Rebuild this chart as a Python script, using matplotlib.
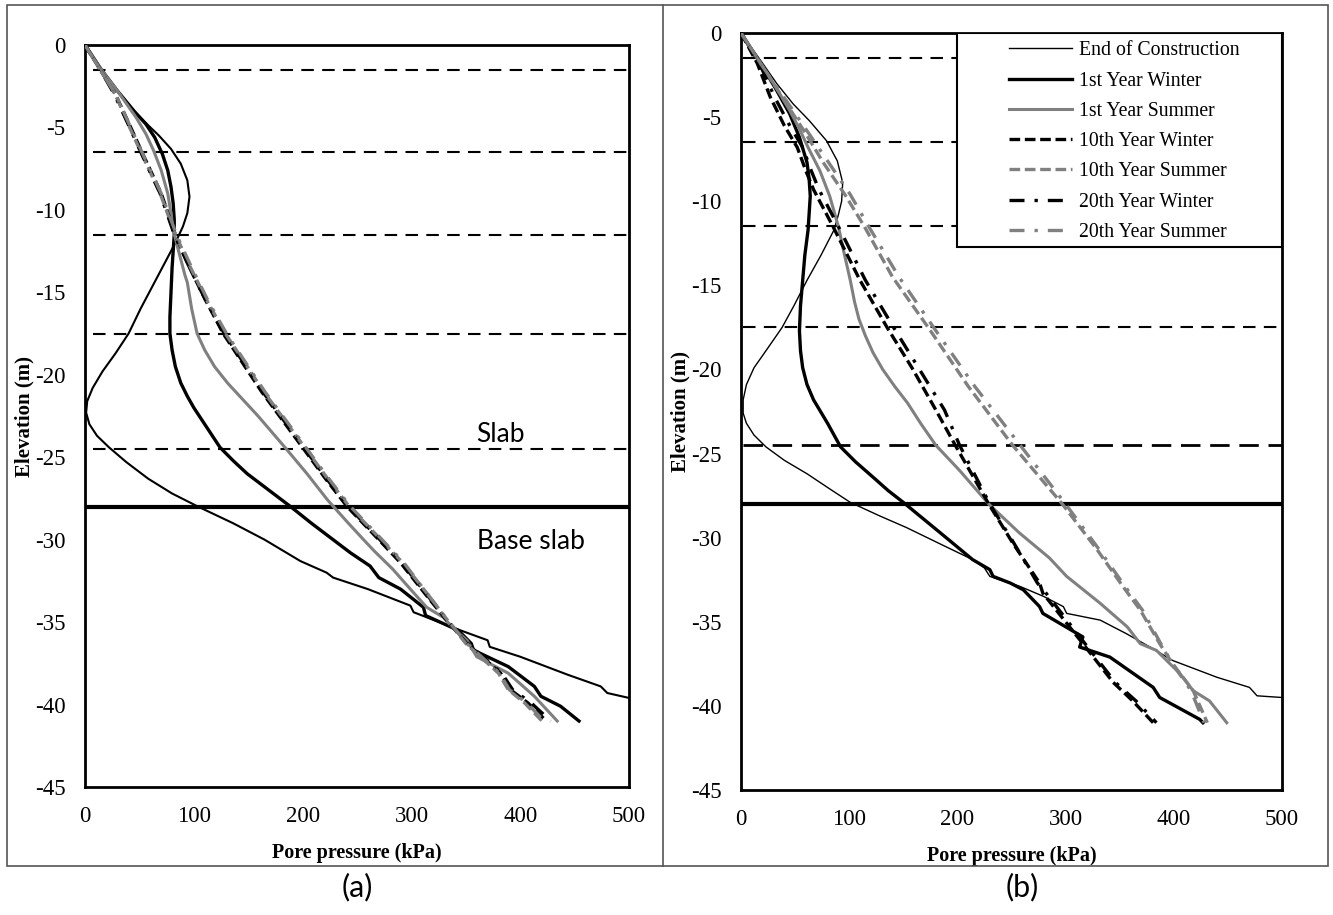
import matplotlib.pyplot as plt
from matplotlib.lines import Line2D
from matplotlib.patches import Rectangle

plt.rcParams['font.family'] = ['Liberation Serif', 'DejaVu Serif']
plt.rcParams['axes.unicode_minus'] = False

# layer boundaries (m) and base slab level
layer_levels = [-1.5, -6.5, -11.5, -17.5, -24.5]
base_slab = -28.0

labels = ['End of Construction', '1st Year Winter', '1st Year Summer',
          '10th Year Winter', '10th Year Summer', '20th Year Winter', '20th Year Summer']

# ---------------- panel (a) ----------------
a_eoc_p = [0, 15, 30, 45, 57, 68, 79, 88, 94, 96, 94, 90, 83, 75, 63, 51, 40, 28, 16, 7, 2, 1, 4, 11,
           22, 38, 58, 80, 104, 136, 165, 198, 222, 228, 260, 299, 302, 345, 370, 372, 400, 444, 474,
           480, 500]
a_eoc_z = [0, -1.5, -2.8, -4.0, -4.8, -5.5, -6.3, -7.2, -8.2, -9.2, -10.2, -11.0, -12.0, -13.0, -14.5,
           -16, -17.5, -18.7, -19.8, -20.8, -21.6, -22.3, -23.0, -23.7, -24.4, -25.3, -26.3, -27.2,
           -28, -29, -30, -31.3, -32.0, -32.3, -33, -34, -34.4, -35.5, -36.1, -36.5, -37.1, -38.2,
           -38.9, -39.3, -39.6]

a_w1_p = [0, 15, 30, 45, 56, 64, 71, 76, 79, 81, 82, 82, 81, 80, 79, 78, 78, 80, 83, 88, 94, 100, 112,
          124, 136, 149, 169, 189, 208, 228, 244, 262, 270, 290, 311, 313, 343, 355, 357, 389, 413,
          419, 437, 454]
a_w1_z = [0, -1.5, -2.8, -4.0, -4.8, -5.6, -6.6, -7.6, -8.6, -9.6, -10.6, -11.5, -12.5, -13.5, -15,
          -16.5, -17.5, -18.5, -19.5, -20.5, -21.3, -22, -23.2, -24.4, -25.2, -26, -27, -28, -29,
          -30, -30.8, -31.6, -32.3, -33, -34.1, -34.6, -35.5, -36.3, -36.7, -37.7, -38.9, -39.5,
          -40.1, -41]

a_s1_p = [0, 15, 30, 47, 56, 63, 70, 76, 79, 81, 86, 92, 94, 98, 103, 110, 119, 131, 145, 159, 172,
          185, 204, 223, 242, 256, 266, 283, 299, 314, 329, 339, 351, 360, 389, 413, 434]
a_s1_z = [0, -1.5, -2.8, -4.4, -5.4, -6.4, -7.6, -9, -10.2, -11.2, -12.5, -14, -14.4, -16, -17.5,
          -18.5, -19.5, -20.5, -21.5, -22.5, -23.5, -24.5, -26, -27.6, -29, -30, -30.7, -31.8, -33,
          -34.1, -34.7, -35.4, -36.1, -37.1, -38.1, -39.5, -41]

a_w10_p = [0, 14, 28, 42, 53, 70, 83, 96, 111, 127, 145, 162, 182, 201, 221, 241, 270, 290, 314, 330,
           351, 382, 391, 407, 424]
a_w10_z = [0, -1.5, -3, -5, -6.6, -9, -11.5, -13.5, -15.5, -17.5, -19.3, -21, -22.8, -24.5, -26.3,
           -28, -30, -31.4, -33.4, -34.7, -36.3, -38.1, -39.1, -39.9, -41]
a_s10_p = [0, 14, 28, 41, 52, 69, 83, 97, 112, 129, 147, 164, 184, 203, 223, 243, 272, 292, 316, 331,
           350, 380, 389, 404, 420]
a_s10_z = a_w10_z
a_w20_p = [0, 14, 27, 41, 52, 69, 82, 96, 111, 128, 146, 163, 183, 202, 222, 242, 271, 291, 315, 330,
           352, 383, 393, 410, 428]
a_w20_z = a_w10_z
a_s20_p = [0, 14, 28, 42, 53, 70, 84, 98, 113, 130, 148, 165, 185, 204, 224, 244, 273, 293, 316, 331,
           351, 381, 390, 406, 422]
a_s20_z = a_w10_z

# ---------------- panel (b) ----------------
b_eoc_p = [0, 20, 33, 48, 63, 79, 89, 94, 93, 90, 86, 74, 61, 49, 38, 24, 12, 5, 2, 2, 5, 12, 23, 40,
           61, 82, 101, 128, 153, 185, 214, 225, 230, 239, 258, 280, 298, 301, 332, 356, 378, 399,
           440, 470, 477, 500]
b_eoc_z = [0, -1.8, -3.0, -4.2, -5.2, -6.4, -7.6, -8.9, -10, -10.8, -11.7, -13.2, -14.7, -16.2, -17.5,
           -18.8, -19.9, -20.9, -21.8, -22.6, -23.2, -23.9, -24.6, -25.4, -26.2, -27.1, -27.9, -28.7,
           -29.4, -30.4, -31.3, -31.8, -32.3, -32.5, -32.9, -33.5, -34.1, -34.5, -34.9, -35.7, -36.5,
           -37.3, -38.3, -38.9, -39.4, -39.5]

b_w1_p = [0, 18, 32, 45, 54, 61, 63, 64, 62, 59, 57, 55, 54, 55, 57, 61, 67, 80, 92, 106, 122, 136,
          150, 167, 184, 199, 214, 230, 233, 249, 261, 276, 279, 316, 313, 341, 381, 387, 424, 427]
b_w1_z = [0, -1.8, -3.3, -4.8, -6.2, -7.7, -8.7, -9.7, -11.7, -13.2, -14.7, -16.2, -17.7, -18.9,
          -19.9, -20.9, -21.8, -23.2, -24.6, -25.5, -26.4, -27.2, -27.9, -28.8, -29.7, -30.5, -31.3,
          -31.9, -32.3, -32.7, -33.1, -34.1, -34.5, -35.9, -36.5, -37.1, -38.9, -39.5, -40.8, -41]

b_s1_p = [0, 20, 33, 45, 54, 62, 73, 82, 90, 95, 101, 105, 109, 115, 122, 131, 142, 154, 166, 180,
          202, 229, 257, 285, 301, 332, 357, 369, 384, 406, 418, 433, 449]
b_s1_z = [0, -2, -3.3, -4.6, -5.7, -6.8, -8.2, -9.7, -11.5, -13, -14.7, -16, -17, -18, -19, -20, -21,
          -22, -23.2, -24.5, -26, -28, -29.7, -31.2, -32.3, -33.9, -35.3, -36.3, -36.7, -38.1, -39.1,
          -39.7, -41]

b_w10_p = [0, 15, 27, 40, 52, 60, 67, 85, 110, 135, 158, 180, 198, 229, 251, 276, 279, 316, 344, 362, 381]
b_w10_z = [0, -1.8, -3.8, -5.5, -6.8, -8.2, -9.3, -11.5, -14.7, -17.5, -19.9, -22.4, -24.5, -28,
           -30.3, -32.7, -33.3, -36.3, -38.6, -39.7, -41]
b_w20_p = [0, 17, 31, 45, 57, 65, 72, 90, 115, 141, 164, 188, 202, 230, 252, 274, 282, 318, 346, 365, 384]
b_w20_z = b_w10_z

b_s10_p = [0, 20, 45, 60, 76, 96, 114, 140, 173, 210, 251, 297, 329, 353, 369, 387, 399, 418, 431]
b_s10_z = [0, -2, -4.5, -6, -7.7, -9.6, -11.5, -14.5, -17.5, -21, -24.5, -28, -30.7, -32.9, -34.3,
           -36.3, -37.5, -39.1, -41]
b_s20_p = [0, 20, 47, 63, 81, 101, 118, 146, 178, 216, 258, 300, 331, 355, 371, 388, 399, 416, 428]
b_s20_z = b_s10_z

grey = '#808080'
styles = [dict(color='black', lw=1.0),
          dict(color='black', lw=2.4),
          dict(color=grey, lw=2.2),
          dict(color='black', lw=2.4, dashes=(3.2, 1.4)),
          dict(color=grey, lw=2.4, dashes=(3.2, 1.4)),
          dict(color='black', lw=2.4, dashes=(4.5, 3, 1, 3)),
          dict(color=grey, lw=2.4, dashes=(4.5, 3, 1, 3))]

panel_a = [(a_eoc_p, a_eoc_z), (a_w1_p, a_w1_z), (a_s1_p, a_s1_z), (a_w10_p, a_w10_z),
           (a_s10_p, a_s10_z), (a_w20_p, a_w20_z), (a_s20_p, a_s20_z)]
panel_b = [(b_eoc_p, b_eoc_z), (b_w1_p, b_w1_z), (b_s1_p, b_s1_z), (b_w10_p, b_w10_z),
           (b_s10_p, b_s10_z), (b_w20_p, b_w20_z), (b_s20_p, b_s20_z)]

fig = plt.figure(figsize=(13.33, 9.15), dpi=100)
ax_a = fig.add_axes([0.0638, 0.1399, 0.4081, 0.8109])
ax_b = fig.add_axes([0.5559, 0.1366, 0.4058, 0.8273])


def setup(ax, x0):
    ax.set_xlim(0, 500)
    ax.set_ylim(-45, 0)
    ax.set_xticks(range(0, 501, 100))
    ax.set_yticks(range(-45, 1, 5))
    ax.tick_params(length=0, labelsize=16.5, pad=14)
    for s in ax.spines.values():
        s.set_linewidth(2.0)
    ax.set_xlabel('Pore pressure (kPa)', fontsize=14.5, fontweight='bold', labelpad=11)
    ax.set_ylabel('Elevation (m)', fontsize=15, fontweight='bold', labelpad=0.5)
    for lv in layer_levels:
        ax.hlines(lv, x0, 500, colors='black', lw=1.5, linestyles=(0, (6, 4)), zorder=1)
    ax.axhline(base_slab, color='black', lw=3.0, zorder=1)


setup(ax_a, 7)
setup(ax_b, 2)
# the lowest boundary in (b) is drawn with longer dashes
ax_b.collections[-1].set_linestyle((0, (7, 3.5)))
ax_b.collections[-1].set_linewidth(2.0)

for (p, z), st in zip(panel_a, styles):
    st = dict(st)
    if st['lw'] == 1.0:
        st['lw'] = 1.5
    ax_a.plot(p, z, zorder=3, **st)

handles = []
for (p, z), st, lab in zip(panel_b, styles, labels):
    h, = ax_b.plot(p, z, zorder=3, label=lab, **st)
    handles.append(h)

ax_a.text(382, -23.6, 'Slab', fontsize=19, family='Lato', ha='center', va='center')
ax_a.text(410, -30.1, 'Base slab', fontsize=19, family='Lato', ha='center', va='center')

# legend box in (b)
ax_b.add_patch(Rectangle((0.399, 0.717), 0.601, 0.283, transform=ax_b.transAxes,
                         facecolor='white', edgecolor='black', lw=1.5, zorder=5))
leg = ax_b.legend(handles=handles, loc='upper left', bbox_to_anchor=(0.48, 1.0), frameon=False,
                  fontsize=14.2, handlelength=3.2, handletextpad=0.35, labelspacing=0.57,
                  borderpad=0.42, borderaxespad=0)
leg.set_zorder(6)

# outer panel frames
fc = '#555555'
fig.add_artist(Rectangle((7 / 1333, 1 - 866 / 915), 1321 / 1333, 861 / 915, transform=fig.transFigure,
                         fill=False, edgecolor=fc, lw=1.2))
fig.add_artist(Line2D([663 / 1333, 663 / 1333], [1 - 866 / 915, 1 - 5 / 915], transform=fig.transFigure,
                      color=fc, lw=1.2))

fig.text(357 / 1333, 1 - 887 / 915, '(a)', fontsize=22, family='Lato', ha='center', va='center')
fig.text(1022 / 1333, 1 - 887 / 915, '(b)', fontsize=22, family='Lato', ha='center', va='center')

fig.savefig('out.png', dpi=100)
